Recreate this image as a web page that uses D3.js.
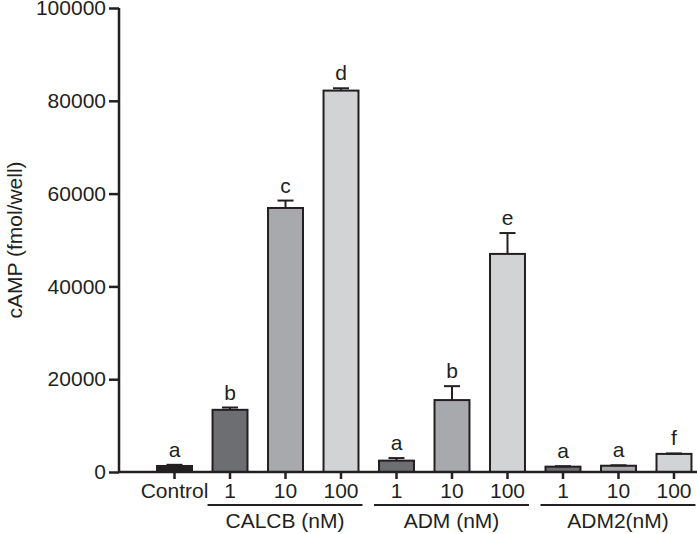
<!DOCTYPE html>
<html>
<head>
<meta charset="utf-8">
<script src="https://cdn.jsdelivr.net/npm/d3@7"></script>
<style>
  html, body { margin: 0; padding: 0; background: #fff; }
  svg { display: block; font-family: "Liberation Sans", Arial, sans-serif; }
</style>
</head>
<body>
<svg id="chart" width="697" height="534"></svg>
<script>
// ---- data ----
const categories = ["Control", "CALCB 1", "CALCB 10", "CALCB 100", "ADM 1", "ADM 10", "ADM 100", "ADM2 1", "ADM2 10", "ADM2 100"];
const tickLabels = ["Control", "1", "10", "100", "1", "10", "100", "1", "10", "100"];
const values = [1300, 13400, 56900, 82200, 2450, 15500, 47000, 1150, 1350, 3900];
const errors = [250, 500, 1600, 500, 550, 3000, 4500, 100, 100, 100];
const letters = ["a", "b", "c", "d", "a", "b", "e", "a", "a", "f"];
const doseLevel = [0, 1, 2, 3, 1, 2, 3, 1, 2, 3];
const groups = [
  { label: "CALCB (nM)", first: 1, last: 3 },
  { label: "ADM (nM)", first: 4, last: 6 },
  { label: "ADM2(nM)", first: 7, last: 9 }
];
const yTicks = [0, 20000, 40000, 60000, 80000, 100000];

// ---- styles ----
const fills = ["#231f20", "#6d6e71", "#a7a9ac", "#d1d3d4"];
const ink = "#231f20";
const fontSize = 21;

const svg = d3.select("#chart");
const axisX0 = 119, axisX1 = 697;

const x = d3.scaleBand()
  .domain(categories)
  .range([136.5, 712])
  .paddingInner(0.37)
  .paddingOuter(0.37);

const y = d3.scaleLinear().domain([0, 100000]).range([472, 8]);

// bars
svg.append("g").selectAll("rect")
  .data(categories)
  .join("rect")
  .attr("x", d => x(d))
  .attr("y", (d, i) => y(values[i]))
  .attr("width", x.bandwidth())
  .attr("height", (d, i) => y(0) - y(values[i]))
  .attr("fill", (d, i) => fills[doseLevel[i]])
  .attr("stroke", ink)
  .attr("stroke-width", 2);

// error bars
const eg = svg.append("g").attr("stroke", ink).attr("stroke-width", 2);
categories.forEach((c, i) => {
  const cx = x(c) + x.bandwidth() / 2;
  const top = y(values[i] + errors[i]);
  eg.append("line").attr("x1", cx).attr("x2", cx).attr("y1", y(values[i])).attr("y2", top);
  eg.append("line").attr("x1", cx - 8).attr("x2", cx + 8).attr("y1", top).attr("y2", top);
});

// significance letters
svg.append("g").selectAll("text")
  .data(categories)
  .join("text")
  .attr("x", d => x(d) + x.bandwidth() / 2)
  .attr("y", (d, i) => y(values[i] + errors[i]) - 8)
  .attr("text-anchor", "middle")
  .attr("font-size", fontSize)
  .attr("fill", ink)
  .text((d, i) => letters[i]);

// y axis
const yAxis = d3.axisLeft(y).tickValues(yTicks).tickFormat(d3.format("d")).tickSize(10).tickPadding(3);
const yg = svg.append("g").attr("transform", `translate(${axisX0},0)`).call(yAxis);
yg.select(".domain").attr("stroke", ink).attr("stroke-width", 2.5).attr("d", `M0,${y(100000)}V${y(0)}`);
yg.selectAll(".tick line").attr("stroke", ink).attr("stroke-width", 2.5);
yg.selectAll(".tick text").attr("font-size", fontSize).attr("fill", ink).attr("font-family", "Liberation Sans, Arial, sans-serif");

// x axis
const xAxis = d3.axisBottom(x).tickFormat((d, i) => tickLabels[i]).tickSize(7).tickPadding(4);
const xg = svg.append("g").attr("transform", `translate(0,${y(0)})`).call(xAxis);
xg.select(".domain").remove();
xg.append("line").attr("x1", axisX0).attr("x2", axisX1).attr("y1", 0).attr("y2", 0)
  .attr("stroke", ink).attr("stroke-width", 2.5);
xg.selectAll(".tick line").attr("stroke", ink).attr("stroke-width", 2.5);
xg.selectAll(".tick text").attr("font-size", fontSize).attr("fill", ink).attr("font-family", "Liberation Sans, Arial, sans-serif");

// group brackets
const gg = svg.append("g");
groups.forEach(g => {
  const x0 = x(categories[g.first]) - 5;
  const x1 = x(categories[g.last]) + x.bandwidth() + 4;
  gg.append("line").attr("x1", x0).attr("x2", x1).attr("y1", 505).attr("y2", 505)
    .attr("stroke", ink).attr("stroke-width", 2);
  gg.append("text").attr("x", (x0 + x1) / 2).attr("y", 528)
    .attr("text-anchor", "middle").attr("font-size", fontSize).attr("fill", ink)
    .text(g.label);
});

// y label
svg.append("text")
  .attr("transform", `translate(22,${(y(0) + y(100000)) / 2}) rotate(-90)`)
  .attr("text-anchor", "middle")
  .attr("font-size", fontSize)
  .attr("fill", ink)
  .text("cAMP (fmol/well)");
</script>
</body>
</html>
